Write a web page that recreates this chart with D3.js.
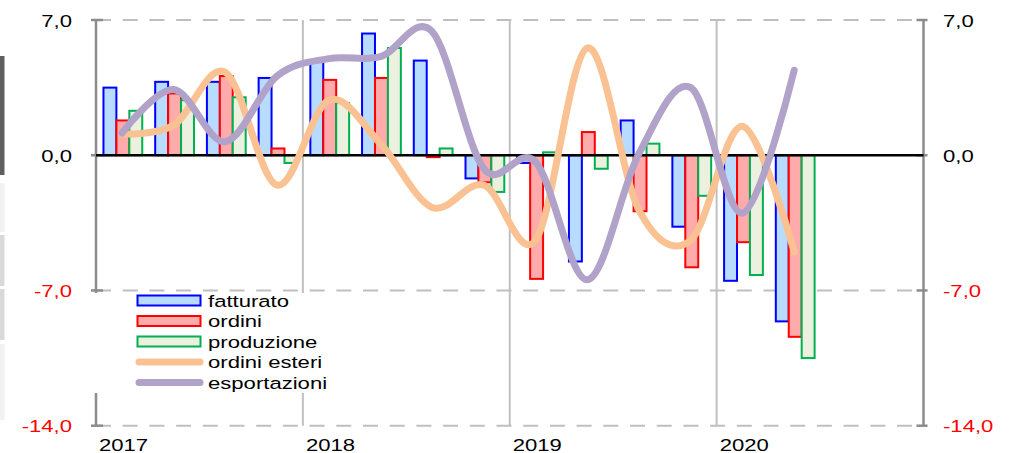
<!DOCTYPE html>
<html>
<head>
<meta charset="utf-8">
<script src="https://cdn.jsdelivr.net/npm/d3@7"></script>
<style>
  body { margin:0; background:#fff; }
  svg text { font-family:"Liberation Sans", Arial, sans-serif; font-size:17px; }
</style>
</head>
<body>
<svg id="chart" width="1010" height="453"></svg>
<script>
// quarterly data, 2017 T1 - 2020 T2
var quarters = ["2017T1","2017T2","2017T3","2017T4","2018T1","2018T2","2018T3","2018T4",
                "2019T1","2019T2","2019T3","2019T4","2020T1","2020T2"];
var fatturato    = [3.5, 3.8, 3.8, 4.0, 4.85, 6.3, 4.9, -1.2, -0.4, -5.5, 1.8, -3.7, -6.5, -8.6];
var ordini       = [1.8, 3.2, 4.1, 0.35, 3.9, 4.0, -0.1, -1.4, -6.4, 1.2, -2.9, -5.8, -4.5, -9.4];
var produzione   = [2.3, 2.85, 3.0, -0.4, 2.7, 5.55, 0.35, -1.9, 0.15, -0.7, 0.6, -2.1, -6.2, -10.5];
var ordiniEsteri = [1.1, 1.55, 4.3, -1.55, 2.85, 0.6, -2.7, -1.55, -4.4, 5.55, -2.85, -4.4, 1.5, -5.0];
var esportazioni = [1.15, 3.4, 0.7, 4.1, 5.0, 5.1, 6.4, -0.7, -0.35, -6.45, 0.1, 3.5, -3.0, 4.4];

var years = [2017, 2018, 2019, 2020];
var yTicks = [7, 0, -7, -14];

var barSeries = [
  {name:"fatturato",  values:fatturato,  fill:"#b8dcff", stroke:"#0000ff"},
  {name:"ordini",     values:ordini,     fill:"#ffabab", stroke:"#ff0000"},
  {name:"produzione", values:produzione, fill:"#ebf0df", stroke:"#00b050"}
];
var lineSeries = [
  {name:"ordini esteri", values:ordiniEsteri, stroke:"#fac292"},
  {name:"esportazioni",  values:esportazioni, stroke:"#b1a2c9"}
];

var svg = d3.select("#chart");
var x = d3.scaleLinear().domain([2017, 2021]).range([96, 923.5]);
var y = d3.scaleLinear().domain([-14, 7]).range([425.7, 20]);
var qw = x(2017.25) - x(2017);
var xq = function(i){ return x(2017 + (i + 0.5) / 4); };
var sub = d3.scaleBand().domain(barSeries.map(function(s){ return s.name; }))
  .range([-1.5 * qw / 4 + 1, 1.5 * qw / 4 + 1]);
var fmt = function(v){ return d3.format(".1f")(v).replace(".", ",").replace("−", "-"); };
var sx = 1.3; // glyphs in the picture are wide

// strips on the far left edge
var strips = [[56,175,"#5f5f5f"],[183,232,"#f2f2f2"],[235,286,"#d9d9d9"],[289,340,"#d9d9d9"],[344,420,"#f2f2f2"]];
svg.selectAll("rect.strip").data(strips).enter().append("rect")
  .attr("x", 0).attr("width", 4.5)
  .attr("y", function(d){ return d[0]; })
  .attr("height", function(d){ return d[1] - d[0]; })
  .attr("fill", function(d){ return d[2]; });

// gridlines
svg.append("g").selectAll("line").data(yTicks.filter(function(t){ return t !== 0; }))
  .enter().append("line")
  .attr("x1", x(2017)).attr("x2", x(2021))
  .attr("y1", y).attr("y2", y)
  .attr("stroke", "#bfbfbf").attr("stroke-width", 2)
  .attr("stroke-dasharray", "15,11.7");

svg.append("g").selectAll("line").data(years.slice(1))
  .enter().append("line")
  .attr("x1", x).attr("x2", x)
  .attr("y1", y(7)).attr("y2", y(-14))
  .attr("stroke", "#c0c0c0").attr("stroke-width", 2);

// axes
[x(2017), x(2021)].forEach(function(ax, k){
  svg.append("line")
    .attr("x1", ax).attr("x2", ax).attr("y1", y(7)).attr("y2", y(-14))
    .attr("stroke", "#8c8c8c").attr("stroke-width", 2.5);
  svg.append("g").selectAll("line").data(yTicks).enter().append("line")
    .attr("x1", k === 0 ? ax - 5 : ax - 7)
    .attr("x2", k === 0 ? ax + 7 : ax + 4)
    .attr("y1", y).attr("y2", y)
    .attr("stroke", "#8c8c8c").attr("stroke-width", 2.5);
});

// bars
barSeries.forEach(function(s){
  svg.append("g").selectAll("rect").data(s.values).enter().append("rect")
    .attr("x", function(d, i){ return xq(i) + sub(s.name); })
    .attr("width", sub.bandwidth())
    .attr("y", function(d){ return y(Math.max(0, d)); })
    .attr("height", function(d){ return Math.abs(y(d) - y(0)); })
    .attr("fill", s.fill).attr("stroke", s.stroke).attr("stroke-width", 2);
});

// zero line
svg.append("line")
  .attr("x1", x(2017)).attr("x2", x(2021))
  .attr("y1", y(0)).attr("y2", y(0))
  .attr("stroke", "#000").attr("stroke-width", 2.5);

// smoothed lines
var line = d3.line()
  .x(function(d, i){ return xq(i); })
  .y(function(d){ return y(d); })
  .curve(d3.curveCatmullRom.alpha(0));

lineSeries.forEach(function(s){
  svg.append("path").datum(s.values)
    .attr("d", line)
    .attr("fill", "none").attr("stroke", s.stroke)
    .attr("stroke-width", 7).attr("stroke-linecap", "round").attr("stroke-linejoin", "round");
});

// y labels both sides
svg.append("g").selectAll("text").data(yTicks).enter().append("text")
  .attr("transform", function(d){ return "translate(72," + (y(d) + 6.5) + ") scale(" + sx + ",1)"; })
  .attr("text-anchor", "end")
  .attr("fill", function(d){ return d < 0 ? "#ff0000" : "#000"; })
  .text(fmt);
svg.append("g").selectAll("text").data(yTicks).enter().append("text")
  .attr("transform", function(d){ return "translate(943," + (y(d) + 6.5) + ") scale(" + sx + ",1)"; })
  .attr("fill", function(d){ return d < 0 ? "#ff0000" : "#000"; })
  .text(fmt);

// year labels
svg.append("g").selectAll("text").data(years).enter().append("text")
  .attr("transform", function(d){ return "translate(" + (x(d) + 3) + ",450.5) scale(" + sx + ",1)"; })
  .attr("fill", "#000")
  .text(function(d){ return d; });

// legend
var legend = svg.append("g");
legend.append("rect").attr("x", 93).attr("y", 293).attr("width", 276).attr("height", 100).attr("fill", "#fff");
var items = barSeries.concat(lineSeries);
items.forEach(function(s, i){
  var cy = 300.5 + i * 20.5;
  if (s.fill) {
    legend.append("rect").attr("x", 137.5).attr("y", cy - 5).attr("width", 63).attr("height", 10)
      .attr("fill", s.fill).attr("stroke", s.stroke).attr("stroke-width", 2);
  } else {
    legend.append("line").attr("x1", 139).attr("x2", 200).attr("y1", cy).attr("y2", cy)
      .attr("stroke", s.stroke).attr("stroke-width", 7).attr("stroke-linecap", "round");
  }
  legend.append("text")
    .attr("transform", "translate(208," + (cy + 6) + ") scale(" + sx + ",1)")
    .attr("fill", "#000")
    .text(s.name);
});
</script>
</body>
</html>
